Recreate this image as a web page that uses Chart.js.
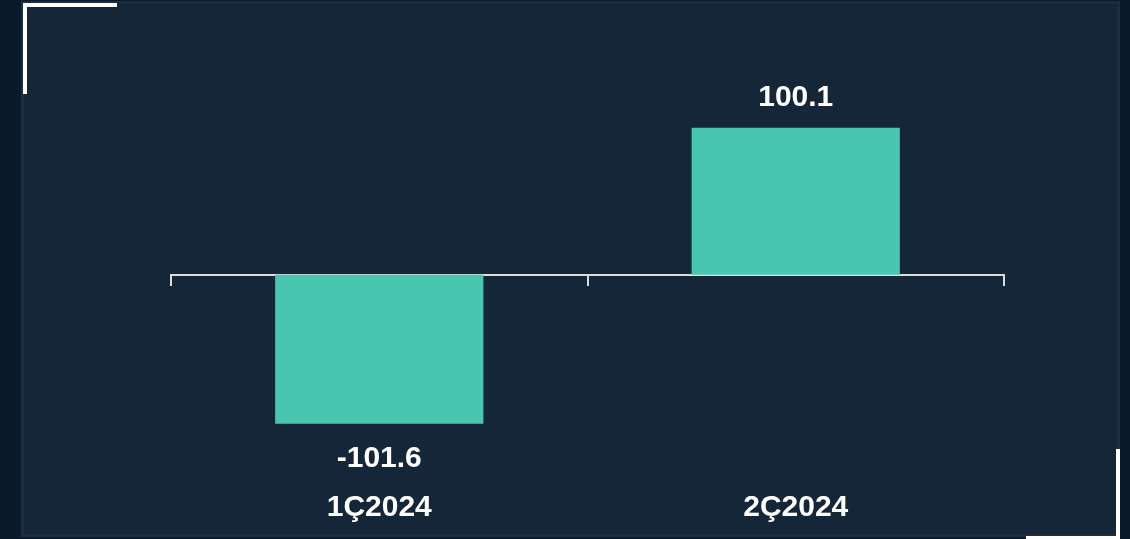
<!DOCTYPE html>
<html>
<head>
<meta charset="utf-8">
<script src="https://cdn.jsdelivr.net/npm/chart.js@4"></script>
<style>
  html, body { margin: 0; padding: 0; background: #0b1a2a; width: 1130px; height: 539px; overflow: hidden; }
  .panel { position: absolute; left: 21px; top: 1px; width: 1093px; height: 530px; background: #142638; border: 3px solid #1b2e40; }
  .corner { position: absolute; background: #ffffff; }
  #wrap { position: absolute; left: 0; top: 0; width: 1130px; height: 539px; }
</style>
</head>
<body>
<div class="panel"></div>
<div class="corner" style="left:23px;top:3px;width:94px;height:4px;"></div>
<div class="corner" style="left:23px;top:3px;width:4px;height:91px;"></div>
<div class="corner" style="left:1116px;top:449px;width:4px;height:90px;"></div>
<div class="corner" style="left:1026px;top:536px;width:94px;height:3px;"></div>
<div id="wrap"><canvas id="myChart" width="1130" height="539"></canvas></div>
<script>
const labels_periodos = ['1Ç2024', '2Ç2024'];
const values_resultado = [-101.6, 100.1];

const fuente = '"Liberation Sans", Arial, sans-serif';

// etiquetas de valor encima / debajo de cada barra
const valueLabels = {
    id: 'valueLabels',
    afterDatasetsDraw(chart) {
        const ctx = chart.ctx;
        const meta = chart.getDatasetMeta(0);
        ctx.save();
        ctx.fillStyle = '#ffffff';
        ctx.font = 'bold 30px ' + fuente;
        ctx.textAlign = 'center';
        ctx.textBaseline = 'middle';
        meta.data.forEach(function(bar, i) {
            const v = values_resultado[i];
            const y = v >= 0 ? bar.y - 30 : bar.y + 35;
            ctx.fillText(v.toFixed(1), bar.x, y);
        });
        ctx.restore();
    }
};

const canvas = document.getElementById('myChart');
const ctx = canvas.getContext('2d');
const config = {
    type: 'bar',
    data: {
        labels: labels_periodos,
        datasets: [{
            data: values_resultado,
            backgroundColor: '#48c6b0',
            borderWidth: 0,
            categoryPercentage: 1,
            barPercentage: 0.5
        }]
    },
    options: {
        responsive: false,
        animation: false,
        layout: {
            padding: { left: 171, right: 126, top: 84, bottom: 0 }
        },
        plugins: {
            legend: { display: false },
            tooltip: { enabled: false }
        },
        scales: {
            x: {
                position: { y: 0 },
                afterFit: function(scale) { scale.height = 0; },
                grid: {
                    drawOnChartArea: false,
                    color: '#d9dde1',
                    lineWidth: 2,
                    tickLength: 10
                },
                border: { color: '#d9dde1', width: 2 },
                ticks: { display: false }
            },
            x2: {
                type: 'category',
                labels: labels_periodos,
                position: 'bottom',
                afterFit: function(scale) { scale.height = 103; },
                grid: { display: false, drawTicks: false },
                border: { display: false },
                ticks: {
                    color: '#ffffff',
                    padding: 54,
                    font: { family: fuente, size: 30, weight: 'bold' }
                }
            },
            y: {
                display: false,
                min: -110,
                max: 130
            }
        }
    },
    plugins: [valueLabels]
};
const myChart = new Chart(ctx, config);
</script>
</body>
</html>
